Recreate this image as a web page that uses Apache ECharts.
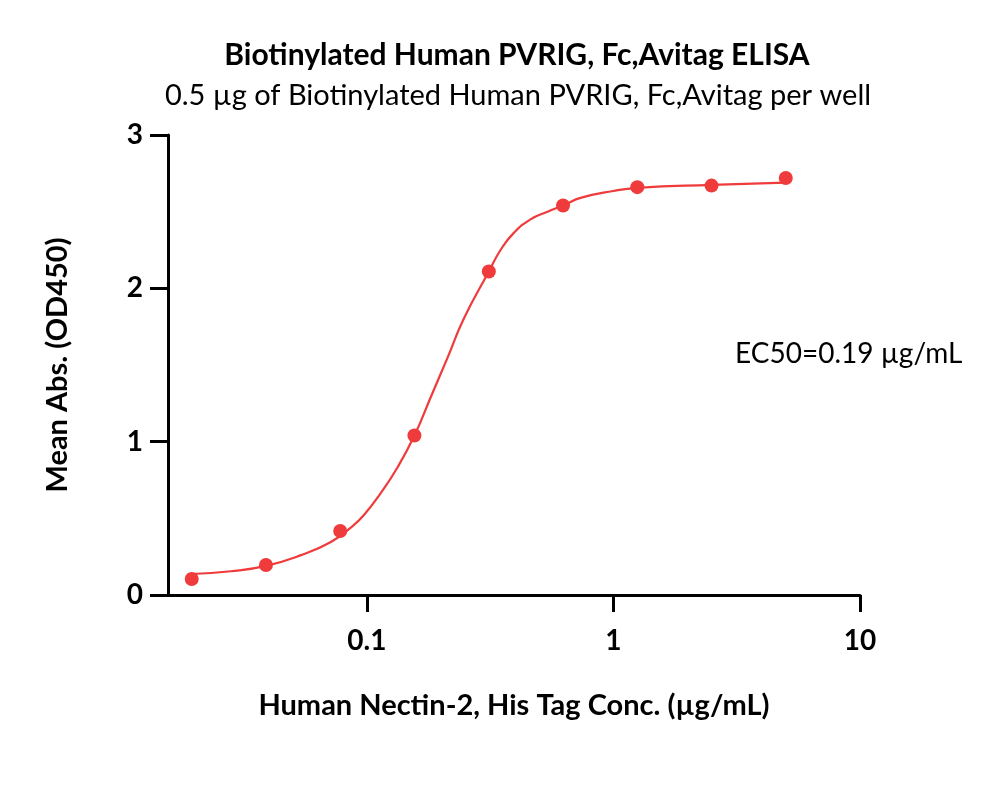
<!DOCTYPE html>
<html>
<head>
<meta charset="utf-8">
<script src="https://cdn.jsdelivr.net/npm/echarts@6/dist/echarts.min.js"></script>
<style>html,body{margin:0;padding:0;background:#fff}#c{width:1000px;height:790px}</style>
</head>
<body>
<div id="c"></div>
<script>
// Measured points
var concentrations = [0.0195, 0.039, 0.078, 0.156, 0.3125, 0.625, 1.25, 2.5, 5];
var meanAbs = [0.104, 0.196, 0.417, 1.04, 2.11, 2.54, 2.66, 2.67, 2.72];
// Fitted curve
var curveConc = [0.0195, 0.0281, 0.039, 0.0541, 0.0715, 0.0861, 0.0972, 0.1139, 0.1335, 0.156, 0.1816, 0.2128, 0.247, 0.3125, 0.3486, 0.3937, 0.4613, 0.5405, 0.625, 0.7355, 1.0, 1.25, 2.5, 5];
var curveAbs = [0.137, 0.155, 0.19, 0.26, 0.346, 0.44, 0.52, 0.665, 0.835, 1.04, 1.29, 1.55, 1.80, 2.11, 2.25, 2.36, 2.45, 2.50, 2.54, 2.59, 2.635, 2.655, 2.675, 2.69];
var xTicks = [0.1, 1, 10];
var yTicks = [0, 1, 2, 3];

var chart = echarts.init(document.getElementById('c'));
var red = '#EF3B3B';
var font = 'Lato, "Open Sans", sans-serif';
chart.setOption({
  animation: false,
  backgroundColor: '#fff',
  title: [
    {text: 'Biotinylated Human PVRIG, Fc,Avitag ELISA', left: 512, top: 35, textAlign: 'center',
     textStyle: {fontFamily: font, fontWeight: 'bold', fontSize: 30, color: '#000'}},
    {text: '0.5 µg of Biotinylated Human PVRIG, Fc,Avitag per well', left: 513, top: 76, textAlign: 'center',
     textStyle: {fontFamily: font, fontWeight: 'normal', fontSize: 29, color: '#000'}}
  ],
  grid: {left: 168, right: 140, top: 135, bottom: 195, containLabel: false},
  xAxis: {
    type: 'log', logBase: 10, min: 0.015625, max: 10,
    name: 'Human Nectin-2, His Tag Conc. (µg/mL)', nameLocation: 'middle', nameGap: 96,
    nameTextStyle: {fontFamily: font, fontWeight: 'bold', fontSize: 29, color: '#000'},
    axisLine: {lineStyle: {color: '#000', width: 3}},
    axisTick: {show: true, length: 17, inside: false, lineStyle: {color: '#000', width: 3}, customValues: xTicks},
    axisLabel: {customValues: xTicks, margin: 32, fontFamily: font, fontWeight: 'bold', fontSize: 28, color: '#000',
      formatter: function (v) { return String(v); }},
    minorTick: {show: false},
    splitLine: {show: false}
  },
  yAxis: {
    type: 'value', min: 0, max: 3, interval: 1,
    name: 'Mean Abs. (OD450)', nameLocation: 'middle', nameGap: 96,
    nameTextStyle: {fontFamily: font, fontWeight: 'bold', fontSize: 29, color: '#000'},
    axisLine: {show: true, lineStyle: {color: '#000', width: 3}},
    axisTick: {show: true, length: 18, lineStyle: {color: '#000', width: 3}},
    axisLabel: {margin: 25, fontFamily: font, fontWeight: 'bold', fontSize: 28, color: '#000',
      customValues: yTicks},
    splitLine: {show: false}
  },
  graphic: [
    {type: 'text', left: 735, top: 340,
     style: {text: 'EC50=0.19 µg/mL', font: 'normal 28px ' + font, fill: '#000'}}
  ],
  series: [
    {type: 'line', data: curveConc.map(function (c, i) { return [c, curveAbs[i]]; }),
     smooth: true, showSymbol: false, symbol: 'none', lineStyle: {color: red, width: 2.2}, z: 2},
    {type: 'scatter', data: concentrations.map(function (c, i) { return [c, meanAbs[i]]; }),
     symbol: 'circle', symbolSize: 14, itemStyle: {color: red, opacity: 1}, z: 3}
  ]
});
</script>
</body>
</html>
